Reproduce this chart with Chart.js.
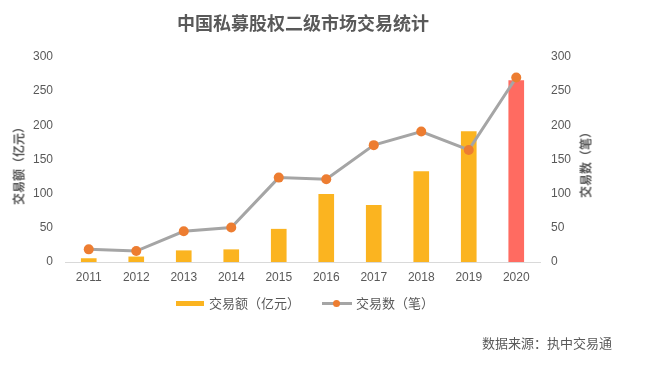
<!DOCTYPE html>
<html><head><meta charset="utf-8">
<script src="https://cdn.jsdelivr.net/npm/chart.js@4/dist/chart.umd.min.js"></script>
<style>
html,body{margin:0;padding:0;background:#fff;}
#wrap{position:relative;width:646px;height:365px;overflow:hidden;font-family:"Noto Sans CJK SC","Liberation Sans",sans-serif;color:#595959;}
#c{position:absolute;left:0;top:0;}
.t{position:absolute;white-space:nowrap;}
#title{left:0;width:606px;top:10px;text-align:center;font-size:18px;font-weight:bold;line-height:24px;}
#ytl{left:18px;top:163px;transform:translate(-50%,-50%) rotate(-90deg);font-size:12px;font-weight:bold;}
#ytr{left:585px;top:162px;transform:translate(-50%,-50%) rotate(-90deg);font-size:12px;font-weight:bold;}
#legend{left:176px;top:294px;font-size:13px;line-height:18px;display:flex;align-items:center;}
.sw{display:inline-block;width:28px;height:5px;background:#FBB420;margin-right:5px;}
.ln{display:inline-block;position:relative;width:30px;height:3px;background:#A5A5A5;margin-right:4px;margin-left:22px;}
.ln i{position:absolute;left:11px;top:-2px;width:7px;height:7px;border-radius:50%;background:#ED7D31;}
#src{right:34px;top:334px;font-size:13px;line-height:18px;}
</style></head>
<body>
<div id="wrap">
<canvas id="c" width="646" height="365"></canvas>
<div class="t" id="title">中国私募股权二级市场交易统计</div>
<div class="t" id="ytl">交易额（亿元）</div>
<div class="t" id="ytr">交易数（笔）</div>
<div class="t" id="legend"><span class="sw"></span>交易额（亿元）<span class="ln"><i></i></span>交易数（笔）</div>
<div class="t" id="src">数据来源：执中交易通</div>
</div>
<script>
const categories = ['2011','2012','2013','2014','2015','2016','2017','2018','2019','2020'];
const amountValues = [5, 7.5, 16.5, 18, 48, 99, 83, 132.5, 191, 265.5];
const countValues = [18.5, 16, 45, 50.5, 123.5, 121, 171, 191, 164, 270];
const amountLabel = '交易额（亿元）';
const countLabel = '交易数（笔）';

const barColors = categories.map((c,i)=> i===categories.length-1 ? '#FF6B61' : '#FBB420');
const tickFont = {family:'"Liberation Sans", Arial, sans-serif', size:12};

new Chart(document.getElementById('c'), {
  data: {
    labels: categories,
    datasets: [
      {type:'line', label: countLabel, data: countValues, yAxisID:'y1',
       borderColor:'#A5A5A5', borderWidth:3, pointRadius:5, pointHoverRadius:5,
       pointBackgroundColor:'#ED7D31', pointBorderColor:'#ED7D31', pointBorderWidth:0, tension:0, order:0},
      {type:'bar', label: amountLabel, data: amountValues, yAxisID:'y',
       backgroundColor: barColors, barThickness:15, order:1}
    ]
  },
  options: {
    responsive:false, animation:false, devicePixelRatio:1,
    layout:{padding:{top:57,left:0,right:0,bottom:0}},
    plugins:{legend:{display:false}, title:{display:false}, tooltip:{enabled:false}},
    scales:{
      x:{grid:{display:false, drawTicks:false}, border:{color:'#D9D9D9', width:1},
         ticks:{color:'#595959', font:tickFont, padding:8, maxRotation:0},
         afterFit(s){ s.height = 103; }},
      y:{position:'left', min:0, max:300, grid:{display:false, drawTicks:false}, border:{display:false},
         ticks:{stepSize:50, color:'#595959', font:tickFont, padding:12},
         afterFit(s){ s.width = 65; }},
      y1:{position:'right', min:0, max:300, grid:{display:false, drawTicks:false}, border:{display:false},
         ticks:{stepSize:50, color:'#595959', font:tickFont, padding:11},
         afterFit(s){ s.width = 106; }}
    }
  }
});
</script>
</body></html>
